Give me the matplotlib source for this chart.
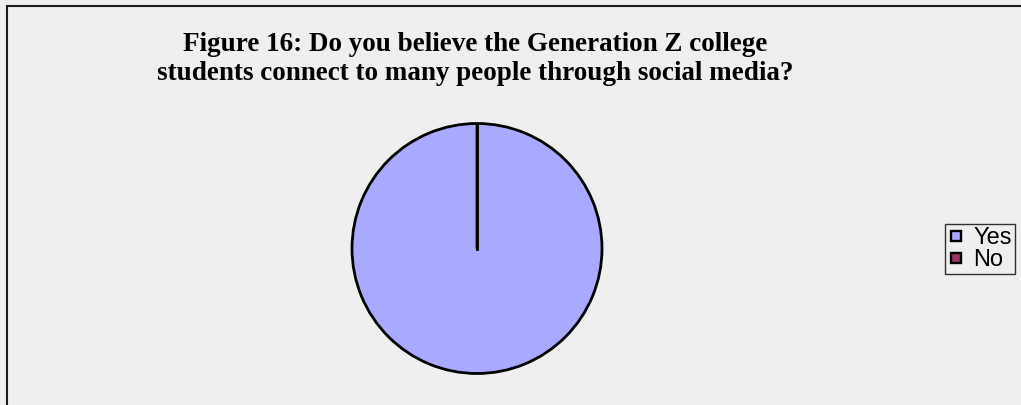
import matplotlib
matplotlib.use("Agg")
import matplotlib.pyplot as plt
from matplotlib.patches import Rectangle
from matplotlib.lines import Line2D

# survey answers
labels = ["Yes", "No"]
shares = [100, 0]
colors = ["#A9A9FF", "#993366"]

title_lines = ["Figure 16: Do you believe the Generation Z college",
               "students connect to many people through social media?"]

W, H = 1021, 405
fig = plt.figure(figsize=(W / 100, H / 100), dpi=100)
fig.patch.set_facecolor("#EFEFEF")

# chart area frame (runs off the right and bottom edges)
fig.patches.append(Rectangle((7 / W, -0.1), 1.2, (H - 6) / H + 0.1,
                             transform=fig.transFigure, fill=False,
                             edgecolor="#1a1a1a", linewidth=1.5))

for line, base in zip(title_lines, [51, 80]):
    fig.text(475 / W, 1 - base / H, line, ha="center", va="baseline",
             fontsize=19.5, fontweight="bold", family="Liberation Serif")

# pie
cx, cy, r = 477, H - 248.5, 125
ax = fig.add_axes([(cx - r) / W, (cy - r) / H, 2 * r / W, 2 * r / H])
ax.pie(shares, colors=colors, startangle=90, counterclock=False,
       wedgeprops=dict(edgecolor="black", linewidth=2))
ax.set_xlim(-1, 1)
ax.set_ylim(-1, 1)
ax.set_aspect("equal")
ax.axis("off")
ax.patch.set_alpha(0)
# boundary of the empty "No" slice
ax.plot([0, 0], [0, 1], color="black", linewidth=2)

handles = [Line2D([], [], marker="s", linestyle="none", markersize=7.8,
                  markerfacecolor=c, markeredgecolor="black",
                  markeredgewidth=1.7) for c in colors]
leg = fig.legend(handles, labels, loc="upper left",
                 bbox_to_anchor=(945 / W, 1 - 224 / H),
                 prop={"family": "Liberation Sans", "size": 17},
                 frameon=True, fancybox=False, borderpad=0.12,
                 handlelength=0.7, handletextpad=0.38, labelspacing=0.0,
                 borderaxespad=0)
leg.get_frame().set_edgecolor("black")
leg.get_frame().set_linewidth(1)
leg.get_frame().set_facecolor("#EFEFEF")

fig.savefig("out.png", dpi=100, facecolor=fig.get_facecolor())
